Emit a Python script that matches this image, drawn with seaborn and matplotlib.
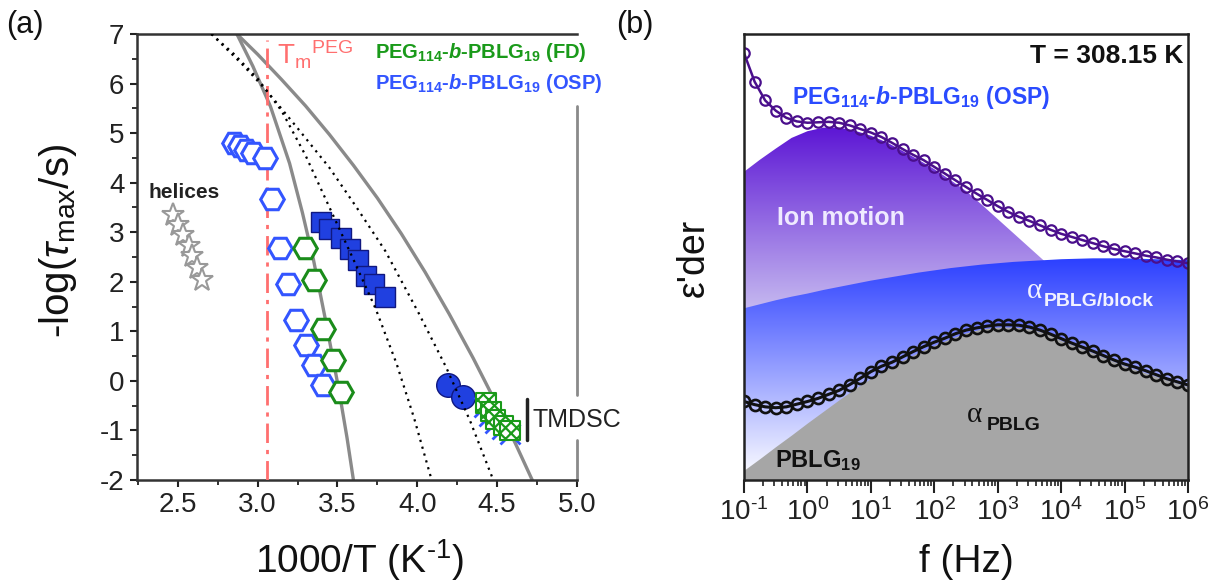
import numpy as np
import matplotlib
matplotlib.use("Agg")
import matplotlib.pyplot as plt
import seaborn as sns
from matplotlib.colors import to_rgba
from matplotlib.ticker import FixedLocator, FuncFormatter, MultipleLocator

# ---------------- panel (a) data : -log(tau_max/s) vs 1000/T ----------------
osp_hex_x = [2.85, 2.89, 2.93, 2.97, 3.046, 3.09, 3.14, 3.19, 3.24, 3.30, 3.35, 3.41]
osp_hex_y = [4.80, 4.73, 4.66, 4.60, 4.49, 3.67, 2.68, 1.96, 1.23, 0.72, 0.32, -0.09]
fd_hex_x = [3.296, 3.35, 3.41, 3.47, 3.525]
fd_hex_y = [2.68, 2.04, 1.04, 0.42, -0.22]
sq_x = [3.40, 3.45, 3.52, 3.58, 3.63, 3.68, 3.73, 3.80]
sq_y = [3.21, 3.06, 2.88, 2.66, 2.44, 2.12, 1.95, 1.70]
circ_x = [4.19, 4.285]
circ_y = [-0.09, -0.32]
hatch_x = [4.43, 4.46, 4.49, 4.54, 4.58]
hatch_y = [-0.45, -0.62, -0.78, -0.90, -1.00]
cross_x = [4.42, 4.45, 4.49, 4.53, 4.58]
cross_y = [-0.52, -0.70, -0.86, -0.98, -1.08]
star_x = [2.47, 2.50, 2.535, 2.57, 2.59, 2.62, 2.65]
star_y = [3.35, 3.15, 2.95, 2.72, 2.52, 2.28, 2.04]

gray_steep_x = [2.87, 2.97, 3.08, 3.20, 3.28, 3.35, 3.43, 3.51, 3.56, 3.60]
gray_steep_y = [7.0, 6.35, 5.54, 4.39, 3.40, 2.44, 1.15, -0.20, -1.15, -2.0]
gray_shallow_x = [2.87, 3.00, 3.15, 3.30, 3.45, 3.60, 3.75, 3.90, 4.05, 4.20, 4.35, 4.50, 4.62, 4.72]
gray_shallow_y = [7.0, 6.59, 6.08, 5.55, 4.97, 4.35, 3.69, 2.97, 2.19, 1.35, 0.46, -0.49, -1.30, -2.0]
dot_left_x = [2.71, 2.85, 3.00, 3.15, 3.30, 3.45, 3.60, 3.74, 3.87, 3.98, 4.09]
dot_left_y = [7.0, 6.6, 6.1, 5.45, 4.55, 3.50, 2.45, 1.45, 0.35, -0.75, -2.0]
dot_right_x = [2.71, 2.90, 3.05, 3.25, 3.45, 3.62, 3.80, 4.01, 4.18, 4.33, 4.47]
dot_right_y = [7.0, 6.4, 5.88, 5.1, 4.3, 3.5, 2.62, 1.36, 0.28, -0.8, -1.95]
tm_peg = 3.056

xa_ticks = [2.5, 3.0, 3.5, 4.0, 4.5, 5.0]
ya_ticks = [-2, -1, 0, 1, 2, 3, 4, 5, 6, 7]

# ---------------- panel (b) data : derivative spectrum ----------------
logf = [-1.000, -0.833, -0.667, -0.500, -0.333, -0.167, 0.000, 0.167, 0.333, 0.500,
        0.667, 0.833, 1.000, 1.167, 1.333, 1.500, 1.667, 1.833, 2.000, 2.167,
        2.333, 2.500, 2.667, 2.833, 3.000, 3.167, 3.333, 3.500, 3.667, 3.833,
        4.000, 4.167, 4.333, 4.500, 4.667, 4.833, 5.000, 5.167, 5.333, 5.500,
        5.667, 5.833, 6.000]
osp_eps = [0.957, 0.893, 0.851, 0.828, 0.812, 0.804, 0.801, 0.802, 0.803, 0.801,
           0.795, 0.787, 0.779, 0.769, 0.756, 0.742, 0.729, 0.717, 0.702, 0.687,
           0.672, 0.657, 0.642, 0.628, 0.614, 0.601, 0.590, 0.581, 0.571, 0.561,
           0.552, 0.545, 0.538, 0.531, 0.524, 0.518, 0.513, 0.508, 0.503, 0.499,
           0.494, 0.490, 0.486]
pblg_eps = [0.176, 0.169, 0.164, 0.162, 0.164, 0.170, 0.176, 0.183, 0.192, 0.201,
            0.214, 0.228, 0.243, 0.255, 0.264, 0.276, 0.288, 0.299, 0.309, 0.318,
            0.328, 0.336, 0.341, 0.345, 0.348, 0.348, 0.347, 0.343, 0.336, 0.327,
            0.317, 0.307, 0.298, 0.289, 0.279, 0.269, 0.260, 0.253, 0.245, 0.236,
            0.227, 0.220, 0.213]

comp_logf = [-1.0, -0.75, -0.5, -0.25, 0.0, 0.25, 0.5, 0.75, 1.0, 1.25, 1.5, 1.75, 2.0,
             2.25, 2.5, 2.75, 3.0, 3.25, 3.5, 3.75, 4.0, 4.5, 5.0, 5.5, 6.0]
ion_motion = [0.691, 0.718, 0.743, 0.767, 0.782, 0.790, 0.790, 0.783, 0.772, 0.757, 0.738,
              0.718, 0.697, 0.673, 0.648, 0.617, 0.585, 0.553, 0.521, 0.489, 0.460,
              0.40, 0.34, 0.29, 0.25]
alpha_block = [0.385, 0.394, 0.403, 0.411, 0.418, 0.426, 0.433, 0.440, 0.447, 0.453, 0.459,
               0.465, 0.470, 0.475, 0.479, 0.483, 0.486, 0.489, 0.491, 0.493, 0.495,
               0.497, 0.497, 0.495, 0.493]
alpha_pblg = [0.022, 0.048, 0.075, 0.101, 0.128, 0.154, 0.180, 0.205, 0.228, 0.249, 0.268,
              0.286, 0.302, 0.317, 0.330, 0.339, 0.343, 0.343, 0.339, 0.330, 0.313,
              0.285, 0.256, 0.232, 0.209]
xb_ticks = [-1, 0, 1, 2, 3, 4, 5, 6]

HY = "\u2010"  # short hyphen used in the original superscripts

# ---------------- style ----------------
sns.set_theme(style="ticks")
plt.rcParams["font.family"] = ["Liberation Sans", "DejaVu Sans"]
plt.rcParams["mathtext.fontset"] = "custom"
plt.rcParams["mathtext.rm"] = "Liberation Sans"
plt.rcParams["mathtext.it"] = "Liberation Sans:italic"
plt.rcParams["mathtext.bf"] = "Liberation Sans:bold"
plt.rcParams["mathtext.bfit"] = "Liberation Sans:italic:bold"
plt.rcParams["axes.unicode_minus"] = False
plt.rcParams["hatch.color"] = "#1a9a1a"
plt.rcParams["hatch.linewidth"] = 1.6

fig = plt.figure(figsize=(12.12, 5.85), dpi=100)
axa = fig.add_axes([0.1130, 0.1795, 0.3630, 0.7624])
axb = fig.add_axes([0.6139, 0.1795, 0.3663, 0.7624])

# ---------------- panel (a) ----------------
GRAY = "#8a8a8a"
sns.lineplot(x=gray_steep_x, y=gray_steep_y, ax=axa, sort=False, estimator=None,
             color=GRAY, lw=2.4, zorder=2)
sns.lineplot(x=gray_shallow_x, y=gray_shallow_y, ax=axa, sort=False, estimator=None,
             color=GRAY, lw=2.4, zorder=2)
for xs, ys in [(dot_left_x, dot_left_y), (dot_right_x, dot_right_y)]:
    axa.plot(xs, ys, color="black", lw=1.6, linestyle=(0, (1, 2.2)), zorder=6)

axa.axvline(tm_peg, ymin=0, ymax=(6.88 + 2) / 9, color="#ff6f6f", lw=2.0,
            dashes=(7, 2.5, 1.5, 2.5), zorder=3)

axa.plot(star_x, star_y, ls="", marker="*", ms=17, mfc="white", mec="#999999", mew=1.5, zorder=4)
axa.plot(osp_hex_x, osp_hex_y, ls="", marker="H", ms=17, mfc="white", mec="#3355ff", mew=2.2, zorder=4)
axa.plot(fd_hex_x, fd_hex_y, ls="", marker="H", ms=17, mfc="white", mec="#1a8c1a", mew=2.2, zorder=5)
axa.plot(sq_x, sq_y, ls="", marker="s", ms=15, mfc="#2040e0", mec="#101880", mew=1.0, zorder=5)
axa.plot(circ_x, circ_y, ls="", marker="o", ms=17, mfc="#2040e0", mec="#101880", mew=1.0, zorder=5)
axa.plot(cross_x, cross_y, ls="", marker="x", ms=14, mec="#3355ff", mew=2.0, zorder=5)
axa.scatter(hatch_x, hatch_y, marker="s", s=200, facecolors="white", edgecolors="#1a9a1a",
            linewidths=1.5, hatch="xxx", zorder=7)

axa.set_xlim(2.244, 5.0)
axa.set_ylim(-2, 7)
axa.xaxis.set_major_locator(FixedLocator(xa_ticks))
axa.xaxis.set_minor_locator(MultipleLocator(0.25))
axa.yaxis.set_major_locator(FixedLocator(ya_ticks))
axa.yaxis.set_minor_locator(MultipleLocator(0.5))
axa.xaxis.set_major_formatter(FuncFormatter(lambda v, p: f"{v:.1f}"))
axa.yaxis.set_major_formatter(FuncFormatter(lambda v, p: f"{int(round(v))}"))
axa.tick_params(axis="both", which="major", direction="out", length=5, width=1.5,
                labelsize=20, colors="#222222", pad=4)
axa.tick_params(axis="both", which="minor", direction="out", length=3.5, width=1.3, colors="#222222")
for s in ["left", "bottom", "top"]:
    axa.spines[s].set_linewidth(1.8)
    axa.spines[s].set_color("#333333")
axa.spines["right"].set_visible(False)
axa.axvline(5.0, ymin=(-0.29 + 2) / 9, ymax=(5.54 + 2) / 9, color=GRAY, lw=2.0, clip_on=False)
axa.axvline(5.0, ymin=0, ymax=(-1.2 + 2) / 9, color=GRAY, lw=2.0, clip_on=False)

axa.text(3.12, 6.38, r"T$_{\mathrm{m}}$$^{\mathrm{PEG}}$", color="#ff6f6f", fontsize=20,
         ha="left", va="baseline")
axa.text(3.733, 6.515, r"PEG$_{\mathbf{114}}$-$\mathbfit{b}$-PBLG$_{\mathbf{19}}$ (FD)",
         color="#1a9a1a", fontsize=14.5, fontweight="bold", ha="left", va="baseline")
axa.text(3.733, 5.89, r"PEG$_{\mathbf{114}}$-$\mathbfit{b}$-PBLG$_{\mathbf{19}}$ (OSP)",
         color="#3355ff", fontsize=14.5, fontweight="bold", ha="left", va="baseline", clip_on=False)
axa.text(2.314, 3.69, "helices", color="#222222", fontsize=15, fontweight="bold",
         ha="left", va="baseline")
axa.plot([4.69, 4.69], [-0.36, -1.2], color="#222222", lw=2.5, clip_on=False)
axa.text(4.72, -0.79, "TMDSC", color="#222222", fontsize=18, ha="left", va="center",
         clip_on=False)

# ---------------- panel (b) ----------------
def gradient_fill(ax, x, y, top_color, bot_color, y_top, y_bot, zorder):
    poly = ax.fill_between(x, y, 0, facecolor="none", edgecolor="none", zorder=zorder)
    c0 = np.array(to_rgba(top_color))
    c1 = np.array(to_rgba(bot_color))
    yy = np.linspace(1.0, 0.0, 500)
    t = np.clip((y_top - yy) / (y_top - y_bot), 0, 1)[:, None]
    img = (c0 * (1 - t) + c1 * t)[:, None, :]
    im = ax.imshow(img, extent=[x[0], x[-1], 0.0, 1.0], aspect="auto", origin="upper",
                   zorder=zorder, interpolation="bilinear")
    im.set_clip_path(poly.get_paths()[0], transform=ax.transData)

gradient_fill(axb, comp_logf, ion_motion, "#5a12d4", "#c6baf0", 0.80, 0.38, 1)
gradient_fill(axb, comp_logf, alpha_block, "#2a3eff", "#ffffff", 0.50, 0.0, 2)
axb.fill_between(comp_logf, alpha_pblg, 0, color="#a6a6a6", lw=0, zorder=3)

sns.lineplot(x=logf, y=osp_eps, ax=axb, sort=False, estimator=None, color="#4a0f8c",
             lw=1.8, marker="o", markersize=7.5, markerfacecolor="none",
             markeredgecolor="#4a0f8c", markeredgewidth=1.6, zorder=5)
sns.lineplot(x=logf, y=pblg_eps, ax=axb, sort=False, estimator=None, color="#111111",
             lw=2.2, marker="o", markersize=8, markerfacecolor="none",
             markeredgecolor="#111111", markeredgewidth=1.9, zorder=5)

axb.set_xlim(-1, 6)
axb.set_ylim(0, 1)
axb.xaxis.set_major_locator(FixedLocator(xb_ticks))
minor_b = [n + np.log10(k) for n in range(-1, 6) for k in range(2, 10)]
axb.xaxis.set_minor_locator(FixedLocator(minor_b))


def dec_label(v, p):
    n = int(round(v))
    s = (HY + str(-n)) if n < 0 else str(n)
    return r"10$^{\mathrm{%s}}$" % s


axb.xaxis.set_major_formatter(FuncFormatter(dec_label))
axb.set_yticks([])
axb.tick_params(axis="x", which="major", direction="out", length=9, width=1.5,
                labelsize=20, colors="#222222", pad=4)
axb.tick_params(axis="x", which="minor", direction="out", length=4.5, width=1.2, colors="#222222")
for s in axb.spines.values():
    s.set_linewidth(1.8)
    s.set_color("#222222")
    s.set_zorder(10)

axb.text(5.92, 0.934, "T = 308.15 K", fontsize=19, fontweight="bold", color="#111111",
         ha="right", va="baseline", zorder=8)
axb.text(-0.248, 0.843, r"PEG$_{\mathbf{114}}$-$\mathbfit{b}$-PBLG$_{\mathbf{19}}$ (OSP)",
         color="#2a4bff", fontsize=16.5, fontweight="bold", ha="left", va="baseline", zorder=8)
axb.text(-0.485, 0.572, "Ion motion", color="#efeaff", fontsize=18, fontweight="bold",
         ha="left", va="baseline", zorder=8)
axb.text(3.46, 0.407, "α", family=["Liberation Serif", "DejaVu Serif"], color="#f2f2ff",
         fontsize=21, ha="left", va="baseline", zorder=8)
axb.text(3.72, 0.389, "PBLG/block", color="#f2f2ff", fontsize=14, fontweight="bold",
         ha="left", va="baseline", zorder=8)
axb.text(2.51, 0.131, "α", family=["Liberation Serif", "DejaVu Serif"], color="#111111",
         fontsize=21, ha="left", va="baseline", zorder=8)
axb.text(2.83, 0.112, "PBLG", color="#111111", fontsize=14, fontweight="bold",
         ha="left", va="baseline", zorder=8)
axb.text(-0.51, 0.028, r"PBLG$_{\mathbf{19}}$", color="#111111", fontsize=17,
         fontweight="bold", ha="left", va="baseline", zorder=8)

# ---------------- axis titles and panel letters ----------------
fig.text(58 / 1212, 1 - 241 / 585, r"-log($\tau_{\mathrm{max}}$/s)", fontsize=29,
         rotation=90, ha="center", va="center", color="#111111")
fig.text(359 / 1212, 1 - 560 / 585, r"1000/T (K$^{\mathrm{%s1}}$)" % HY, fontsize=28,
         ha="center", va="center", color="#111111")
fig.text(694 / 1212, 1 - 258 / 585, "ε'der", fontsize=27, rotation=90,
         ha="center", va="center", color="#111111")
fig.text(966 / 1212, 1 - 562 / 585, "f (Hz)", fontsize=28, ha="center", va="center",
         color="#111111")
fig.text(25 / 1212, 1 - 25 / 585, "(a)", fontsize=22, ha="center", va="center", color="#111111")
fig.text(635 / 1212, 1 - 25 / 585, "(b)", fontsize=22, ha="center", va="center", color="#111111")

fig.savefig("out.png", dpi=100)
